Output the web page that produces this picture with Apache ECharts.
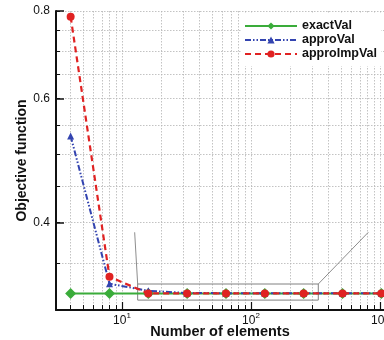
<!DOCTYPE html>
<html>
<head>
<meta charset="utf-8">
<script src="https://cdn.jsdelivr.net/npm/echarts@6/dist/echarts.min.js"></script>
<style>
html,body{margin:0;padding:0;background:#fff;}
#chart{width:384px;height:340px;}
</style>
</head>
<body>
<div id="chart"></div>
<script>
// ---- data ----
const elements = [4, 8, 16, 32, 64, 128, 256, 512, 1024];
const exactVal = [0.3168, 0.3168, 0.3168, 0.3168, 0.3168, 0.3168, 0.3168, 0.3168, 0.3168];
const approVal = [0.531, 0.327, 0.3195, 0.3172, 0.317, 0.317, 0.317, 0.317, 0.317];
const approImpVal = [0.785, 0.3345, 0.3168, 0.3168, 0.3168, 0.3168, 0.3168, 0.3168, 0.3168];

const xRange = [3.08, 1074];
const yRange = [0.3, 0.8];
const xMajorTicks = [10, 100, 1000];
const xGridValues = [4, 5, 6, 7, 8, 9, 10, 20, 30, 40, 50, 60, 70, 80, 90, 100, 200, 300, 400, 500, 600, 700, 800, 900, 1000];
const yMajorTicks = [0.4, 0.6, 0.8];
const yGridValues = [0.35, 0.4, 0.45, 0.5, 0.55, 0.6, 0.65, 0.7, 0.75, 0.8];

// zoom-window annotation (data coordinates)
const zoomBoxX = [13.23, 332.4];
const zoomBoxY = [0.3099, 0.3267];
const zoomLeadStartX = [12.54, 811.7];
const zoomLeadStartY = [0.3871, 0.3871];

const L = Math.log10;
const FONT = '"Liberation Sans", Arial, Helvetica, sans-serif';
const eps = 1e-9;

function pts(xs, ys) { return xs.map((x, i) => [L(x), L(ys[i])]); }

const xMin = L(xRange[0]), xMax = L(xRange[1]);
const yMin = L(yRange[0]) - eps, yMax = L(yRange[1]) + eps;

const chart = echarts.init(document.getElementById('chart'), null, {renderer: 'canvas'});

const gridLine = {show: true, lineStyle: {color: '#b4b4b4', width: 0.8, type: [1.5, 1.5]}};

const option = {
  animation: false,
  backgroundColor: '#fff',
  textStyle: {fontFamily: FONT},
  grid: {left: 56, right: 0, top: 11, bottom: 30, containLabel: false, outerBoundsMode: 'none'},
  legend: {
    left: 242, top: 14,
    orient: 'vertical',
    backgroundColor: '#ffffff',
    padding: [5, 4, 5, 2],
    itemWidth: 52, itemHeight: 9, itemGap: 0,
    textStyle: {fontFamily: FONT, fontWeight: 'bold', fontSize: 12.5, color: '#111', lineHeight: 14},
    data: ['exactVal', 'approVal', 'approImpVal']
  },
  xAxis: [
    {
      type: 'value', min: xMin, max: xMax, position: 'bottom',
      axisLine: {show: true, onZero: false, lineStyle: {color: '#111', width: 2}},
      axisTick: {show: true, inside: true, length: 8, customValues: xMajorTicks.map(L), lineStyle: {color: '#111', width: 1.2}},
      axisLabel: {
        show: true, margin: 2, customValues: xMajorTicks.map(L),
        hideOverlap: false, showMaxLabel: true,
        formatter: v => '{b|10}{s|' + Math.round(v) + '}',
        rich: {
          b: {fontFamily: FONT, fontSize: 12, color: '#111', verticalAlign: 'bottom', lineHeight: 15},
          s: {fontFamily: FONT, fontSize: 8, color: '#111', verticalAlign: 'top', lineHeight: 15}
        }
      },
      splitLine: {show: false},
      name: 'Number of elements', nameLocation: 'middle', nameGap: 14, nameMoveOverlap: false,
      nameTextStyle: {fontFamily: FONT, fontWeight: 'bold', fontSize: 14.5, color: '#111'}
    },
    {
      type: 'value', min: xMin, max: xMax, position: 'bottom', offset: 0,
      axisLine: {show: false},
      axisTick: {show: true, inside: true, length: 5, customValues: xGridValues.map(L), lineStyle: {color: '#111', width: 1}},
      axisLabel: {show: false},
      splitLine: gridLine
    }
  ],
  yAxis: [
    {
      type: 'value', min: yMin, max: yMax, position: 'left',
      axisLine: {show: true, onZero: false, lineStyle: {color: '#111', width: 2}},
      axisTick: {show: true, inside: true, length: 8, customValues: yMajorTicks.map(L), lineStyle: {color: '#111', width: 1.5}},
      axisLabel: {
        show: true, margin: 6, customValues: yMajorTicks.map(L),
        formatter: v => Math.pow(10, v).toFixed(1),
        fontFamily: FONT, fontSize: 12, color: '#111'
      },
      splitLine: {show: false},
      name: 'Objective function', nameLocation: 'middle', nameGap: 27, nameRotate: 90, nameMoveOverlap: false,
      nameTextStyle: {fontFamily: FONT, fontWeight: 'bold', fontSize: 14, color: '#111'}
    },
    {
      type: 'value', min: yMin, max: yMax, position: 'left', offset: 0,
      axisLine: {show: false},
      axisTick: {show: true, inside: true, length: 4, customValues: yGridValues.map(L), lineStyle: {color: '#111', width: 1}},
      axisLabel: {show: false},
      splitLine: gridLine
    }
  ],
  series: [
    {
      name: 'exactVal', type: 'line', xAxisIndex: 0, yAxisIndex: 0,
      data: pts(elements, exactVal),
      symbol: 'diamond', symbolSize: 11,
      lineStyle: {color: '#3aac3a', width: 2, type: 'solid'},
      itemStyle: {color: '#3aac3a'},
      z: 3,
      markArea: {
        silent: true,
        itemStyle: {color: 'rgba(0,0,0,0)', borderColor: '#808080', borderWidth: 1},
        data: [[{coord: [L(zoomBoxX[0]), L(zoomBoxY[1])]}, {coord: [L(zoomBoxX[1]), L(zoomBoxY[0])]}]]
      },
      markLine: {
        silent: true, symbol: 'none',
        label: {show: false},
        lineStyle: {color: '#707070', width: 0.8, type: 'solid'},
        data: [
          [{coord: [L(zoomLeadStartX[0]), L(zoomLeadStartY[0])]}, {coord: [L(zoomBoxX[0]), L(zoomBoxY[1])]}],
          [{coord: [L(zoomLeadStartX[1]), L(zoomLeadStartY[1])]}, {coord: [L(zoomBoxX[1]), L(zoomBoxY[1])]}]
        ]
      }
    },
    {
      name: 'approVal', type: 'line', xAxisIndex: 0, yAxisIndex: 0,
      data: pts(elements, approVal),
      symbol: 'triangle', symbolSize: 7,
      lineStyle: {color: '#3344b0', width: 2, type: [6, 2, 1.5, 2, 1.5, 2]},
      itemStyle: {color: '#3344b0'},
      z: 4
    },
    {
      name: 'approImpVal', type: 'line', xAxisIndex: 0, yAxisIndex: 0,
      data: pts(elements, approImpVal),
      symbol: 'circle', symbolSize: 8,
      lineStyle: {color: '#e02222', width: 2.2, type: [6, 4]},
      itemStyle: {color: '#e02222'},
      z: 5
    }
  ]
};
chart.setOption(option);
</script>
</body>
</html>
